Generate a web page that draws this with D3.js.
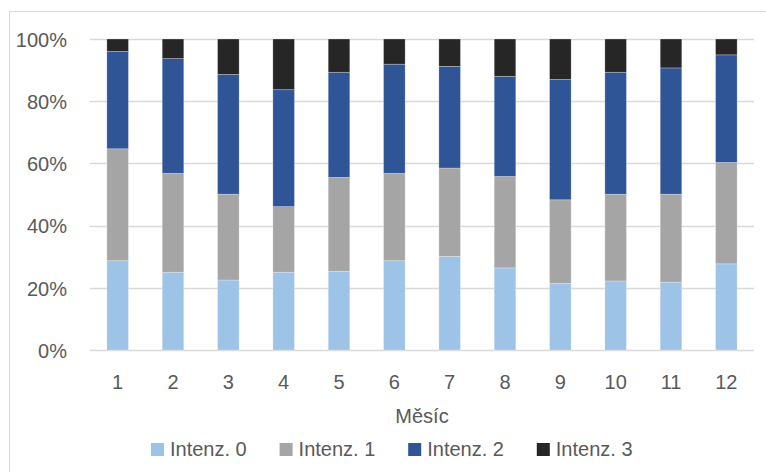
<!DOCTYPE html>
<html>
<head>
<meta charset="utf-8">
<script src="https://cdn.jsdelivr.net/npm/d3@7"></script>
<style>
  html, body { margin: 0; padding: 0; background: #fff; }
  svg { display: block; }
  text { font-family: "Liberation Sans", Arial, sans-serif; fill: #595959; }
</style>
</head>
<body>
<svg id="chart" width="766" height="472"></svg>
<script>
// Months and share of each intensity class (percent of the month)
const months = ["1", "2", "3", "4", "5", "6", "7", "8", "9", "10", "11", "12"];
const intenz0 = [28.7, 25.0, 22.5, 25.0, 25.3, 28.7, 30.1, 26.4, 21.4, 22.2, 21.8, 27.7];
const intenz1 = [36.0, 31.8, 27.6, 21.1, 30.2, 28.1, 28.4, 29.4, 26.9, 27.9, 28.3, 32.6];
const intenz2 = [31.3, 36.9, 38.5, 37.6, 33.8, 35.1, 32.7, 32.2, 38.7, 39.2, 40.6, 34.6];
const intenz3 = [4.0, 6.3, 11.4, 16.3, 10.7, 8.1, 8.8, 12.0, 13.0, 10.7, 9.3, 5.1];
const seriesNames = ["Intenz. 0", "Intenz. 1", "Intenz. 2", "Intenz. 3"];
const seriesColors = ["#9dc3e6", "#a5a5a5", "#2f5597", "#262626"];
const yTicks = [0, 0.2, 0.4, 0.6, 0.8, 1.0];
const xTitle = "Měsíc";

const svg = d3.select("#chart");

// Chart frame (light border, open to the right and bottom)
svg.append("path")
  .attr("d", "M9.5,472 L9.5,11.5 L766,11.5")
  .attr("fill", "none")
  .attr("stroke", "#d9d9d9")
  .attr("stroke-width", 1);

const plot = { left: 90, right: 754, top: 39, bottom: 350 };

const rows = months.map((m, i) => {
  const vals = [intenz0[i], intenz1[i], intenz2[i], intenz3[i]];
  const total = d3.sum(vals);
  const r = { month: m };
  seriesNames.forEach((s, k) => { r[s] = vals[k] / total; });
  return r;
});

const stacked = d3.stack().keys(seriesNames)(rows);

const x = d3.scaleBand()
  .domain(months)
  .range([plot.left, plot.right])
  .paddingInner(0.61)
  .paddingOuter(0.305);

const y = d3.scaleLinear()
  .domain([0, 1])
  .range([plot.bottom, plot.top]);

// Horizontal gridlines
svg.append("g")
  .selectAll("line")
  .data(yTicks)
  .join("line")
  .attr("x1", plot.left)
  .attr("x2", plot.right)
  .attr("y1", d => Math.round(y(d)) + 0.5)
  .attr("y2", d => Math.round(y(d)) + 0.5)
  .attr("stroke", "#d9d9d9")
  .attr("stroke-width", 1.5);

// Y axis labels
const yAxis = d3.axisLeft(y)
  .tickValues(yTicks)
  .tickFormat(d3.format(".0%"))
  .tickSize(0)
  .tickPadding(0);
const gy = svg.append("g")
  .attr("transform", `translate(67,0)`)
  .call(yAxis);
gy.select(".domain").remove();
gy.selectAll("text")
  .attr("font-size", 20)
  .attr("font-family", null)
  .attr("fill", "#595959")
  .attr("dy", "0.36em");

// Stacked bars
svg.append("g")
  .selectAll("g")
  .data(stacked)
  .join("g")
  .attr("fill", (d, i) => seriesColors[i])
  .selectAll("rect")
  .data(d => d)
  .join("rect")
  .attr("x", d => x(d.data.month))
  .attr("width", x.bandwidth())
  .attr("y", d => y(d[1]))
  .attr("height", d => y(d[0]) - y(d[1]))
  .attr("stroke", "#ffffff")
  .attr("stroke-opacity", 0.35)
  .attr("stroke-width", 0.75);

// X axis labels
const xAxis = d3.axisBottom(x).tickSize(0).tickPadding(0);
const gx = svg.append("g")
  .attr("transform", `translate(0,389)`)
  .call(xAxis);
gx.select(".domain").remove();
gx.selectAll("text")
  .attr("font-size", 20)
  .attr("font-family", null)
  .attr("fill", "#595959")
  .attr("dy", 0)
  .attr("y", 0);

// Axis title
svg.append("text")
  .attr("x", (plot.left + plot.right) / 2)
  .attr("y", 423)
  .attr("text-anchor", "middle")
  .attr("font-size", 20)
  .text(xTitle);

// Legend
const legend = svg.append("g")
  .selectAll("g")
  .data(seriesNames)
  .join("g")
  .attr("transform", (d, i) => `translate(${151 + i * 128.6},0)`);
legend.append("rect")
  .attr("x", 0)
  .attr("y", 443)
  .attr("width", 13)
  .attr("height", 13)
  .attr("fill", (d, i) => seriesColors[i]);
legend.append("text")
  .attr("x", 19)
  .attr("y", 456)
  .attr("font-size", 20)
  .text(d => d);
</script>
</body>
</html>
